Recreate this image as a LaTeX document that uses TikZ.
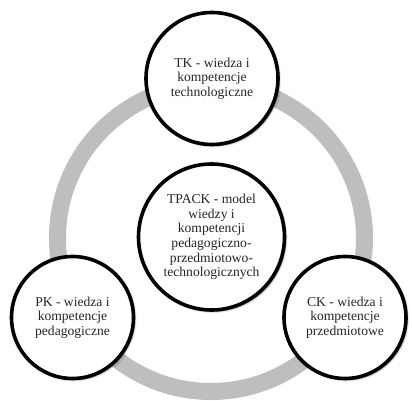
\documentclass[tikz,border=0pt]{standalone}
\usepackage{fontspec}
\setmainfont{Liberation Serif}
\usetikzlibrary{shadows.blur}
\definecolor{ringgray}{RGB}{190,190,190}
\tikzset{
  circ/.style={circle, draw=black, line width=3.6pt, fill=white, inner sep=0pt,
    align=center, font=\fontsize{13.6}{14.6}\selectfont, text=black!85,
    blur shadow={shadow xshift=1.5pt, shadow yshift=-1.5pt, shadow blur steps=6, shadow opacity=45}},
  outer/.style={circ, minimum size=122pt},
  topouter/.style={circ, minimum size=132pt},
  inner/.style={circ, minimum size=146pt},
  ringstyle/.style={draw=ringgray, line width=17pt}
}
\begin{document}
\begin{tikzpicture}[x=1pt,y=-1pt]
\useasboundingbox (0,0) rectangle (412,401);
\coordinate (rc) at (211,238);
\draw[ringstyle] (rc) circle[radius=153.5];
\node[topouter] (tk) at (212,78.5) {TK - wiedza i\\kompetencje\\technologiczne};
\node[inner] (tpack) at (211.5,237) {TPACK - model\\wiedzy i\\kompetencji\\pedagogiczno-\\przedmiotowo-\\technologicznych};
\node[outer] (pk) at (72.5,317.5) {PK - wiedza i\\kompetencje\\pedagogiczne};
\node[outer] (ck) at (345,317.5) {CK - wiedza i\\kompetencje\\przedmiotowe};
\end{tikzpicture}
\end{document}
